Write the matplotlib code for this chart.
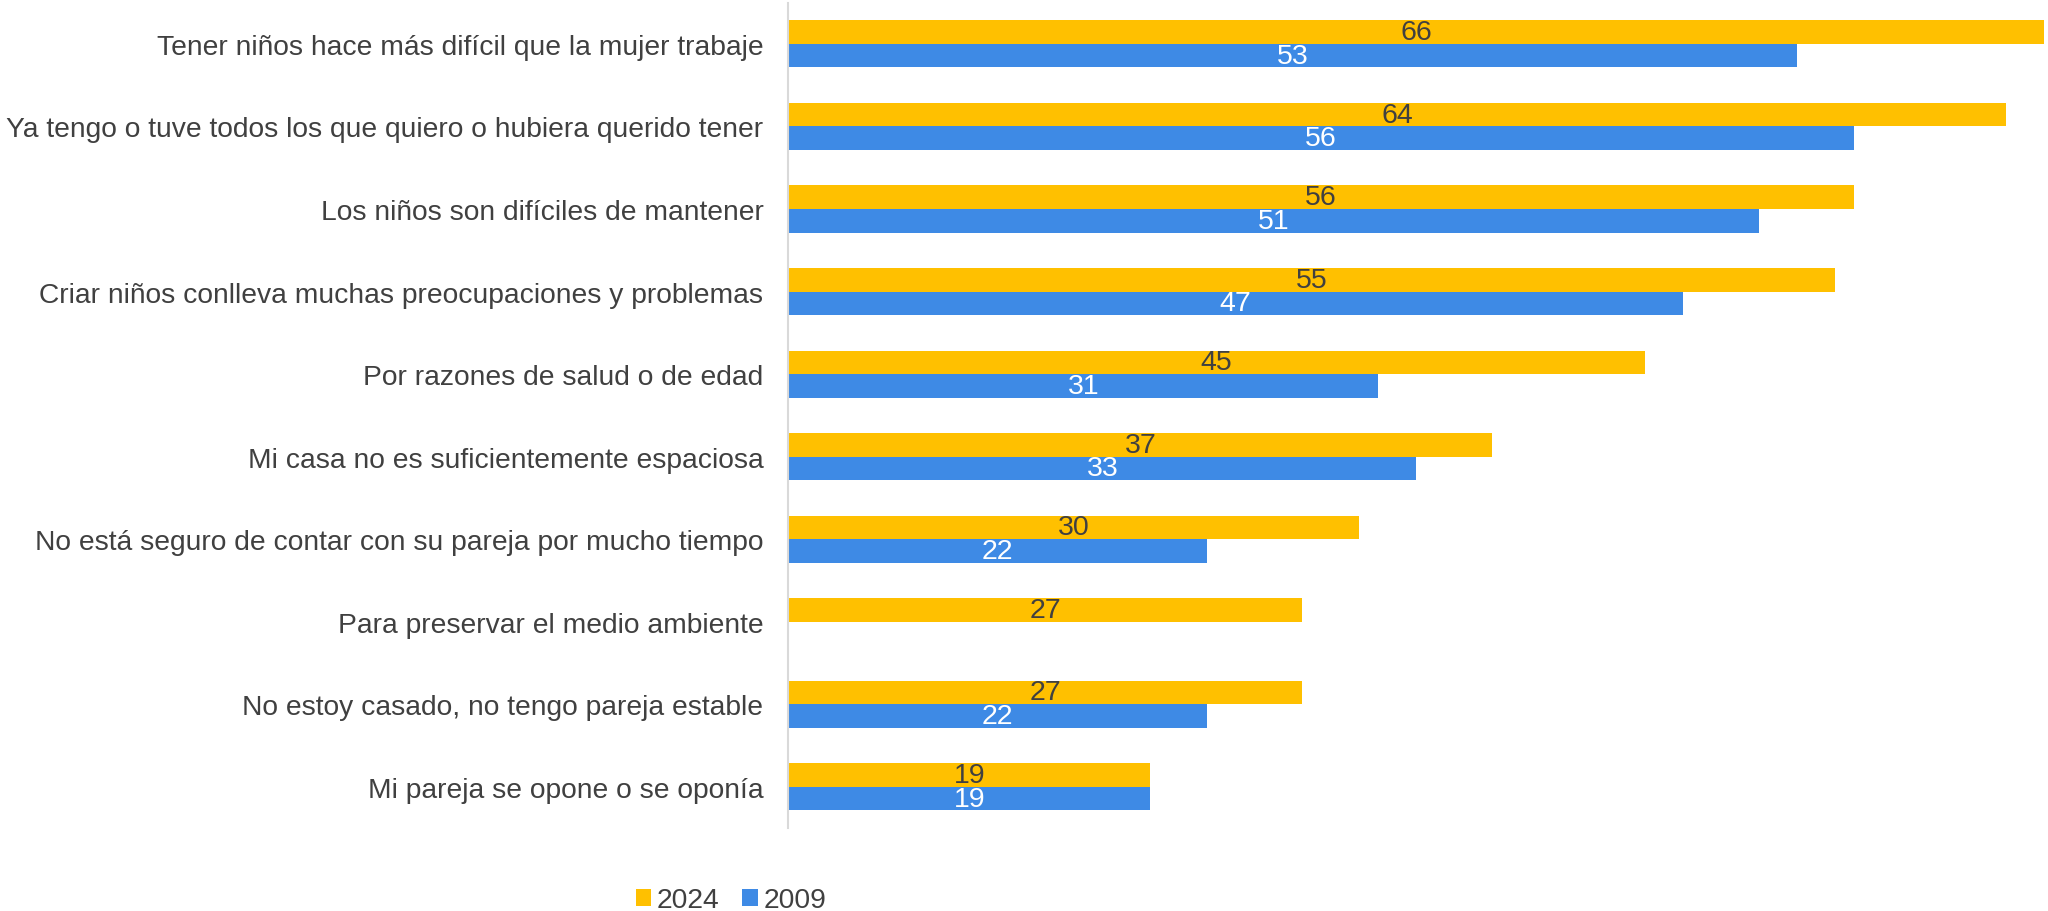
import numpy as np
import matplotlib
matplotlib.use("Agg")
import matplotlib.pyplot as plt

categories = [
    "Tener niños hace más difícil que la mujer trabaje",
    "Ya tengo o tuve todos los que quiero o hubiera querido tener",
    "Los niños son difíciles de mantener",
    "Criar niños conlleva muchas preocupaciones y problemas",
    "Por razones de salud o de edad",
    "Mi casa no es suficientemente espaciosa",
    "No está seguro de contar con su pareja por mucho tiempo",
    "Para preservar el medio ambiente",
    "No estoy casado, no tengo pareja estable",
    "Mi pareja se opone o se oponía",
]
values_2024 = [66, 64, 56, 55, 45, 37, 30, 27, 27, 19]
values_2009 = [53, 56, 51, 47, 31, 33, 22, np.nan, 22, 19]

plt.rcParams['font.family'] = ['Liberation Sans', 'DejaVu Sans']

yellow = "#FFC000"
blue = "#3E8AE5"
text_col = "#404040"

fig = plt.figure(figsize=(20.48, 9.12), dpi=100)
ax = fig.add_axes([0.385, 0.091, 0.614, 0.905])

y = np.arange(len(categories))
h = 0.285
ax.barh(y - h / 2, values_2024, height=h, color=yellow, label="2024")
ax.barh(y + h / 2, values_2009, height=h, color=blue, label="2009")

# value labels centred in each bar
for i, (a, b) in enumerate(zip(values_2024, values_2009)):
    ax.text(a / 2, i - h / 2, str(a), ha="center", va="center",
            fontsize=20.5, color=text_col)
    if not np.isnan(b):
        ax.text(b / 2, i + h / 2, str(int(b)), ha="center", va="center",
                fontsize=20.5, color="white")

ax.set_xlim(0, 66.1)
ax.set_ylim(9.5, -0.5)
ax.set_yticks(y)
ax.set_yticklabels(categories, fontsize=20.3, color=text_col)
ax.tick_params(axis="y", length=0, pad=18)
ax.set_xticks([])
for s in ["top", "right", "bottom"]:
    ax.spines[s].set_visible(False)
ax.spines["left"].set_color("#D9D9D9")
ax.spines["left"].set_linewidth(1.5)

leg = fig.legend(loc="center", bbox_to_anchor=(0.357, 0.012), ncol=2,
                 frameon=False, fontsize=20.3, handlelength=0.55,
                 handleheight=0.55, handletextpad=0.2, columnspacing=0.8)
for t in leg.get_texts():
    t.set_color(text_col)

fig.savefig("out.png", dpi=100)
